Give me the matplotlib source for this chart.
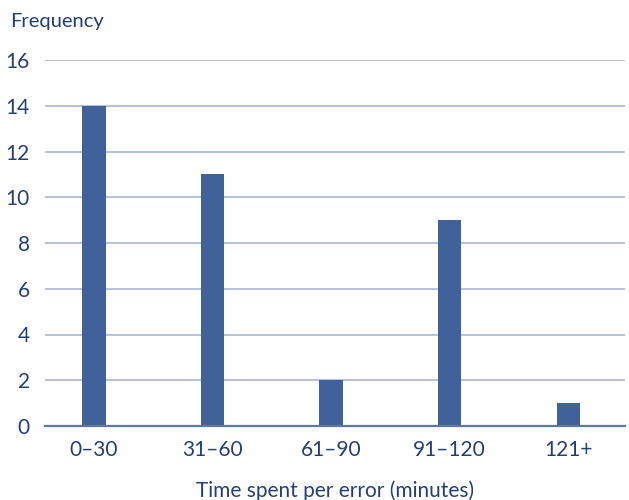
import matplotlib
matplotlib.use("Agg")
import matplotlib.pyplot as plt

categories = ["0\u201330", "31\u201360", "61\u201390", "91\u2013120", "121+"]
frequency = [14, 11, 2, 9, 1]
y_ticks = [0, 2, 4, 6, 8, 10, 12, 14, 16]

text_color = "#233f7a"
bar_color = "#41619a"
grid_color = "#aab5cd"

plt.rcParams["font.family"] = ["Lato", "DejaVu Sans"]

fig = plt.figure(figsize=(6.29, 5.0), dpi=100)
ax = fig.add_axes([45 / 629, 74 / 500, 580 / 629, 366 / 500])

x = list(range(len(categories)))
ax.bar(x, frequency, width=0.195, color=bar_color, zorder=3)

ax.set_xlim(-0.413, 4.48)
ax.set_ylim(0, 16)
ax.set_yticks(y_ticks)
ax.set_xticks(x)
ax.set_xticklabels(categories)

ax.grid(axis="y", color=grid_color, linewidth=1.2, zorder=0)
ax.grid(axis="x", visible=False)
for side in ["top", "right", "left"]:
    ax.spines[side].set_visible(False)
ax.spines["bottom"].set_color("#5e77a8")
ax.spines["bottom"].set_linewidth(1.6)
ax.spines["bottom"].set_zorder(4)

ax.tick_params(axis="both", length=0, labelsize=15, colors=text_color)
ax.tick_params(axis="y", pad=11)
ax.tick_params(axis="x", pad=10)
for lbl in ax.get_yticklabels():
    lbl.set_horizontalalignment("right")

ax.set_xlabel("Time spent per error (minutes)", fontsize=15, color=text_color, labelpad=15)
fig.text(10 / 629, 1 - 22 / 500, "Frequency", fontsize=14.5, color=text_color,
         ha="left", va="center")

fig.savefig("out.png", dpi=100)
